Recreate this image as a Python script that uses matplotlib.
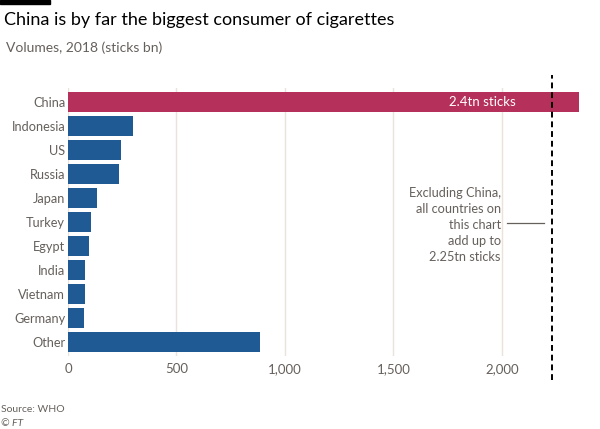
import matplotlib
matplotlib.use('Agg')
import matplotlib.pyplot as plt

countries = ['China', 'Indonesia', 'US', 'Russia', 'Japan', 'Turkey', 'Egypt',
             'India', 'Vietnam', 'Germany', 'Other']
volumes = [2400, 300, 242, 236, 133, 104, 95, 78, 77, 75, 883]
ticks = [0, 500, 1000, 1500, 2000]
tick_labels = ['0', '500', '1,000', '1,500', '2,000']
excl_china = 2230

plt.rcParams['font.family'] = ['Lato', 'DejaVu Sans']

blue = '#1f5a94'
red = '#b5305a'
grey = '#66605c'

fig = plt.figure(figsize=(6, 4.29), dpi=100)
ax = fig.add_axes([68 / 600, 1 - 356 / 429, 511 / 600, 268 / 429])

colors = [red if c == 'China' else blue for c in countries]
ax.barh(range(len(countries)), volumes, height=0.83, color=colors, zorder=2)

ax.set_xlim(0, 2355)
ax.set_ylim(len(countries) - 0.42, -0.58)
ax.set_yticks(range(len(countries)))
ax.set_yticklabels(countries, fontsize=9.2, color=grey)
ax.set_xticks(ticks)
ax.set_xticklabels(tick_labels, fontsize=9.5, color=grey)
ax.tick_params(length=0, pad=2)
ax.tick_params(axis='x', pad=5)
ax.grid(axis='x', color='#e9e3dc', linewidth=1, zorder=0)
for s in ax.spines.values():
    s.set_visible(False)

ax.text(2063, 0, '2.4tn sticks', color='white', fontsize=9.5,
        ha='right', va='center', zorder=3)

ax.axvline(excl_china, ymin=-0.09, ymax=1.05, color='black', linestyle=(0, (3, 2)),
           linewidth=1.4, clip_on=False, zorder=4)
ax.plot([2021, 2196], [5.03, 5.03], color=grey, linewidth=0.9, zorder=3)
ax.text(1994, 5.12,
        'Excluding China,\nall countries on\nthis chart\nadd up to\n2.25tn sticks',
        ha='right', va='center', fontsize=9.2, color=grey, linespacing=1.4, zorder=3)

fig.patches.append(plt.Rectangle((0, 1 - 4 / 429), 50 / 600, 4 / 429,
                                 transform=fig.transFigure, color='black'))
fig.text(4 / 600, 1 - 20 / 429, 'China is by far the biggest consumer of cigarettes',
         fontsize=13, color='black', va='center')
fig.text(6 / 600, 1 - 48 / 429, 'Volumes, 2018 (sticks bn)',
         fontsize=10, color=grey, va='center')
fig.text(1 / 600, 1 - 410 / 429, 'Source: WHO', fontsize=7.5, color=grey, va='center')
fig.text(1 / 600, 1 - 423 / 429, '© FT', fontsize=7.5, color=grey, va='center',
         style='italic')

fig.savefig('out.png', dpi=100, facecolor='white')
